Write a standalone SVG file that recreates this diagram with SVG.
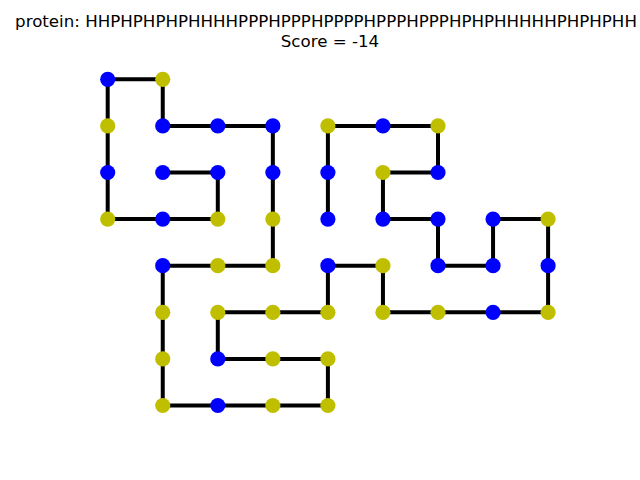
<svg xmlns="http://www.w3.org/2000/svg" width="640" height="480" viewBox="0 0 640 480">
<style>
text{font-family:"DejaVu Sans","Liberation Sans",sans-serif;font-size:16.67px;fill:#000;text-anchor:middle}
.c{fill:none;stroke:#000;stroke-width:4;stroke-linejoin:miter;stroke-linecap:butt}
.H{fill:#0000ff}
.P{fill:#bfbf00}
</style>
<rect width="640" height="480" fill="#fff"/>
<text x="326" y="27">protein: HHPHPHPHPHHHHPPPHPPPHPPPPHPPPHPPPHPHPHHHHHPHPHPHH</text>
<text x="330" y="47">Score = -14</text>
<g id="connectors">
<path class="c" d="M162.75,172.5 L217.8,172.5 L217.8,219.1 L162.75,219.1 L107.7,219.1 L107.7,172.5 L107.7,125.9 L107.7,79.3 L162.75,79.3 L162.75,125.9 L217.8,125.9 L272.85,125.9 L272.85,172.5 L272.85,219.1 L272.85,265.7 L217.8,265.7 L162.75,265.7 L162.75,312.3 L162.75,358.9 L162.75,405.5 L217.8,405.5 L272.85,405.5 L327.9,405.5 L327.9,358.9 L272.85,358.9 L217.8,358.9 L217.8,312.3 L272.85,312.3 L327.9,312.3 L327.9,265.7 L382.95,265.7 L382.95,312.3 L438,312.3 L493.05,312.3 L548.1,312.3 L548.1,265.7 L548.1,219.1 L493.05,219.1 L493.05,265.7 L438,265.7 L438,219.1 L382.95,219.1 L382.95,172.5 L438,172.5 L438,125.9 L382.95,125.9 L327.9,125.9 L327.9,172.5 L327.9,219.1"/>
</g>
<g id="n1"><circle class="H" cx="162.75" cy="172.5" r="7.6"/></g>
<g id="n2"><circle class="H" cx="217.8" cy="172.5" r="7.6"/></g>
<g id="n3"><circle class="P" cx="217.8" cy="219.1" r="7.6"/></g>
<g id="n4"><circle class="H" cx="162.75" cy="219.1" r="7.6"/></g>
<g id="n5"><circle class="P" cx="107.7" cy="219.1" r="7.6"/></g>
<g id="n6"><circle class="H" cx="107.7" cy="172.5" r="7.6"/></g>
<g id="n7"><circle class="P" cx="107.7" cy="125.9" r="7.6"/></g>
<g id="n8"><circle class="H" cx="107.7" cy="79.3" r="7.6"/></g>
<g id="n9"><circle class="P" cx="162.75" cy="79.3" r="7.6"/></g>
<g id="n10"><circle class="H" cx="162.75" cy="125.9" r="7.6"/></g>
<g id="n11"><circle class="H" cx="217.8" cy="125.9" r="7.6"/></g>
<g id="n12"><circle class="H" cx="272.85" cy="125.9" r="7.6"/></g>
<g id="n13"><circle class="H" cx="272.85" cy="172.5" r="7.6"/></g>
<g id="n14"><circle class="P" cx="272.85" cy="219.1" r="7.6"/></g>
<g id="n15"><circle class="P" cx="272.85" cy="265.7" r="7.6"/></g>
<g id="n16"><circle class="P" cx="217.8" cy="265.7" r="7.6"/></g>
<g id="n17"><circle class="H" cx="162.75" cy="265.7" r="7.6"/></g>
<g id="n18"><circle class="P" cx="162.75" cy="312.3" r="7.6"/></g>
<g id="n19"><circle class="P" cx="162.75" cy="358.9" r="7.6"/></g>
<g id="n20"><circle class="P" cx="162.75" cy="405.5" r="7.6"/></g>
<g id="n21"><circle class="H" cx="217.8" cy="405.5" r="7.6"/></g>
<g id="n22"><circle class="P" cx="272.85" cy="405.5" r="7.6"/></g>
<g id="n23"><circle class="P" cx="327.9" cy="405.5" r="7.6"/></g>
<g id="n24"><circle class="P" cx="327.9" cy="358.9" r="7.6"/></g>
<g id="n25"><circle class="P" cx="272.85" cy="358.9" r="7.6"/></g>
<g id="n26"><circle class="H" cx="217.8" cy="358.9" r="7.6"/></g>
<g id="n27"><circle class="P" cx="217.8" cy="312.3" r="7.6"/></g>
<g id="n28"><circle class="P" cx="272.85" cy="312.3" r="7.6"/></g>
<g id="n29"><circle class="P" cx="327.9" cy="312.3" r="7.6"/></g>
<g id="n30"><circle class="H" cx="327.9" cy="265.7" r="7.6"/></g>
<g id="n31"><circle class="P" cx="382.95" cy="265.7" r="7.6"/></g>
<g id="n32"><circle class="P" cx="382.95" cy="312.3" r="7.6"/></g>
<g id="n33"><circle class="P" cx="438" cy="312.3" r="7.6"/></g>
<g id="n34"><circle class="H" cx="493.05" cy="312.3" r="7.6"/></g>
<g id="n35"><circle class="P" cx="548.1" cy="312.3" r="7.6"/></g>
<g id="n36"><circle class="H" cx="548.1" cy="265.7" r="7.6"/></g>
<g id="n37"><circle class="P" cx="548.1" cy="219.1" r="7.6"/></g>
<g id="n38"><circle class="H" cx="493.05" cy="219.1" r="7.6"/></g>
<g id="n39"><circle class="H" cx="493.05" cy="265.7" r="7.6"/></g>
<g id="n40"><circle class="H" cx="438" cy="265.7" r="7.6"/></g>
<g id="n41"><circle class="H" cx="438" cy="219.1" r="7.6"/></g>
<g id="n42"><circle class="H" cx="382.95" cy="219.1" r="7.6"/></g>
<g id="n43"><circle class="P" cx="382.95" cy="172.5" r="7.6"/></g>
<g id="n44"><circle class="H" cx="438" cy="172.5" r="7.6"/></g>
<g id="n45"><circle class="P" cx="438" cy="125.9" r="7.6"/></g>
<g id="n46"><circle class="H" cx="382.95" cy="125.9" r="7.6"/></g>
<g id="n47"><circle class="P" cx="327.9" cy="125.9" r="7.6"/></g>
<g id="n48"><circle class="H" cx="327.9" cy="172.5" r="7.6"/></g>
<g id="n49"><circle class="H" cx="327.9" cy="219.1" r="7.6"/></g>
</svg>
